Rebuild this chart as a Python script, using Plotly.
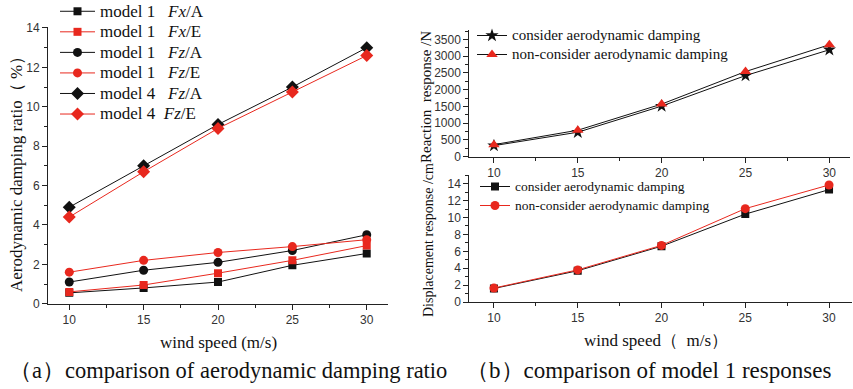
import plotly.graph_objects as go

wind = [10, 15, 20, 25, 30]

# (a) aerodynamic damping ratio (%)
m1_fx_a = [0.55, 0.80, 1.10, 1.95, 2.55]
m1_fx_e = [0.60, 0.95, 1.55, 2.20, 2.95]
m1_fz_a = [1.10, 1.70, 2.10, 2.70, 3.50]
m1_fz_e = [1.60, 2.20, 2.60, 2.90, 3.25]
m4_fz_a = [4.90, 7.00, 9.10, 11.00, 13.00]
m4_fz_e = [4.40, 6.70, 8.90, 10.75, 12.60]

# (b) reaction response (N)
react_consider = [330, 730, 1510, 2420, 3190]
react_nonconsider = [360, 790, 1570, 2540, 3340]

# (b) displacement response (cm)
disp_consider = [1.60, 3.70, 6.60, 10.40, 13.30]
disp_nonconsider = [1.65, 3.80, 6.70, 11.05, 13.85]

W, H = 853, 389
SERIF = "Liberation Serif"
SANS = "Liberation Sans"
BLACK = "#111111"
RED = "#e8281e"

def px(x):
    return x / W

def py(y):
    return 1 - y / H

fig = go.Figure()

def add(x, y, name, color, symbol, size, xa, ya, legend, tsize, lcolor=None):
    fig.add_trace(go.Scatter(
        x=x, y=y, name=f'<span style="font-size:{tsize}px">{name}</span>',
        mode="lines+markers",
        line=dict(color=lcolor or color, width=1),
        marker=dict(color=color, symbol=symbol, size=size),
        xaxis=xa, yaxis=ya, legend=legend))

add(wind, m1_fx_a, "model 1   <i>Fx</i>/A", BLACK, "square", 8, "x", "y", "legend", 17)
add(wind, m1_fx_e, "model 1   <i>Fx</i>/E", RED, "square", 8, "x", "y", "legend", 17)
add(wind, m1_fz_a, "model 1   <i>Fz</i>/A", BLACK, "circle", 9, "x", "y", "legend", 17)
add(wind, m1_fz_e, "model 1   <i>Fz</i>/E", RED, "circle", 9, "x", "y", "legend", 17)
add(wind, m4_fz_a, "model 4   <i>Fz</i>/A", BLACK, "diamond", 10, "x", "y", "legend", 17)
add(wind, m4_fz_e, "model 4  <i>Fz</i>/E", RED, "diamond", 10, "x", "y", "legend", 17)

add(wind, react_consider, "consider aerodynamic damping", BLACK, "star", 10, "x2", "y2", "legend2", 15)
add(wind, react_nonconsider, "non-consider aerodynamic damping", RED, "triangle-up", 10, "x2", "y2", "legend2", 15, lcolor=BLACK)

add(wind, disp_consider, "consider aerodynamic damping", BLACK, "square", 8, "x3", "y3", "legend3", 13.5)
add(wind, disp_nonconsider, "non-consider aerodynamic damping", RED, "circle", 9, "x3", "y3", "legend3", 13.5)

axis_common = dict(
    showline=True, linecolor="#222", linewidth=1, mirror=False, automargin=False,
    ticks="outside", ticklen=5, tickcolor="#222", showgrid=False, zeroline=False,
    tickfont=dict(family=SANS, size=12, color="#333"),
)

fig.update_layout(
    template="none",
    width=W, height=H, margin=dict(l=0, r=0, t=0, b=0, autoexpand=False),
    paper_bgcolor="white", plot_bgcolor="white",
    xaxis=dict(domain=[px(48), px(388)], range=[8.57, 31.43], tickvals=wind,
               minor=dict(ticks="outside", ticklen=3, dtick=2.5, tick0=0, tickcolor="#222"),
               anchor="y", **axis_common),
    yaxis=dict(domain=[py(303.7), py(27)], range=[0, 14.05], dtick=2,
               minor=dict(ticks="outside", ticklen=3, dtick=1, tickcolor="#222"),
               anchor="x", **axis_common),
    xaxis2=dict(domain=[px(469.3), px(850)], range=[8.53, 31.23], tickvals=wind,
                minor=dict(ticks="outside", ticklen=3, dtick=2.5, tick0=0, tickcolor="#222"),
                anchor="y2", **axis_common),
    yaxis2=dict(domain=[py(156.7), py(30)], range=[0, 3780], dtick=500,
                minor=dict(ticks="outside", ticklen=3, dtick=250, tickcolor="#222"),
                anchor="x2", **axis_common),
    xaxis3=dict(domain=[px(469.3), px(852)], range=[8.53, 31.37], tickvals=wind,
                minor=dict(ticks="outside", ticklen=3, dtick=2.5, tick0=0, tickcolor="#222"),
                anchor="y3", **axis_common),
    yaxis3=dict(domain=[py(302), py(175)], range=[0, 15.03], dtick=2,
                minor=dict(ticks="outside", ticklen=3, dtick=1, tickcolor="#222"),
                anchor="x3", **axis_common),
    showlegend=True,
    legend=dict(x=px(55), y=py(-4), xanchor="left", yanchor="top",
                bgcolor="rgba(0,0,0,0)", font=dict(family=SERIF, size=13.5, color="#111"),
                tracegroupgap=0, itemwidth=35),
    legend2=dict(x=px(472), y=py(21), xanchor="left", yanchor="top",
                 bgcolor="rgba(0,0,0,0)", font=dict(family=SERIF, size=11.5, color="#111"),
                 tracegroupgap=0, itemwidth=30),
    legend3=dict(x=px(475), y=py(172), xanchor="left", yanchor="top",
                 bgcolor="rgba(0,0,0,0)", font=dict(family=SERIF, size=11.8, color="#111"),
                 tracegroupgap=0, itemwidth=30),
)

def ann(text, x, y, size, angle=0):
    fig.add_annotation(text=text, x=px(x), y=py(y), xref="paper", yref="paper",
                       showarrow=False, textangle=angle, xanchor="center", yanchor="middle",
                       font=dict(family=SERIF, size=size, color="#111"))

ann("Aerodynamic damping ratio（ %）", 16, 170, 17, -90)
ann("wind speed (m/s)", 218, 342, 17)
ann("（a）comparison of aerodynamic damping ratio", 228, 370, 22.5)
ann("Reaction  response /N", 426, 97, 15, -90)
ann("Displacement response /cm", 428, 240, 14, -90)
ann("wind speed（  m/s）", 656, 340, 17)
ann("（b）comparison of model 1 responses", 648, 370, 23)

fig.write_html("out.html", config={"displayModeBar": False},
               post_script="document.body.style.margin='0';document.body.style.padding='0';")
